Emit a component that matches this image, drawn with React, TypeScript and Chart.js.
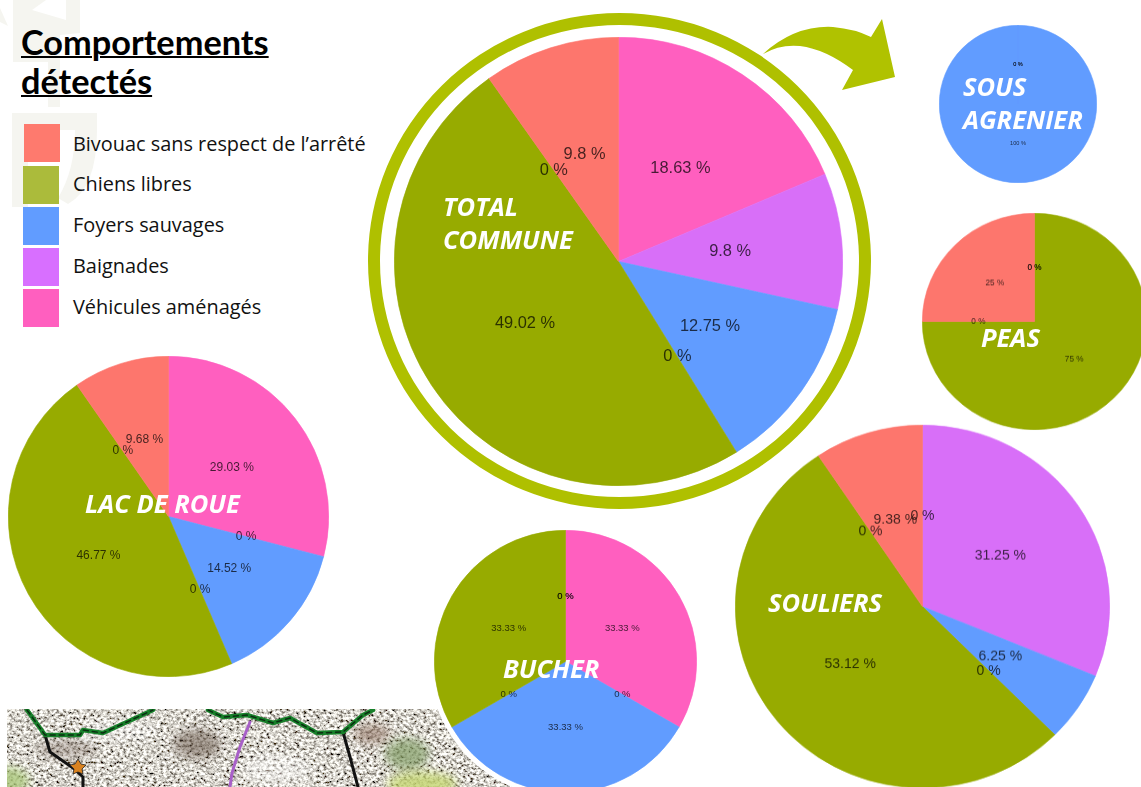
import React, { useEffect, useRef } from "react";
import { Chart, registerables } from "chart.js";

Chart.register(...registerables);

const categories = [
  "Véhicules aménagés",
  "Baignades",
  "Foyers sauvages",
  "Autre 1",
  "Chiens libres",
  "Autre 2",
  "Bivouac sans respect de l’arrêté",
];
const sliceColors = ["#FF5FBF", "#D86FF8", "#619CFF", "#00BA38", "#97AB00", "#00BFC4", "#FD766D"];

const totalCommune = [18.63, 9.8, 12.75, 0, 49.02, 0, 9.8];
const lacDeRoue = [29.03, 0, 14.52, 0, 46.77, 0, 9.68];
const bucher = [33.33, 0, 33.33, 0, 33.33, 0, 0];
const souliers = [0, 31.25, 6.25, 0, 53.12, 0, 9.38];
const peas = [0, 0, 0, 0, 75, 0, 25];
const sousAgrenier = [0, 0, 100, 0, 0, 0, 0];

const legendLabels = [
  "Bivouac sans respect de l’arrêté",
  "Chiens libres",
  "Foyers sauvages",
  "Baignades",
  "Véhicules aménagés",
];
const legendColors = ["#FE7A6E", "#ABBB3B", "#619CFF", "#D86FFF", "#FF5FBF"];

type PieCfg = {
  name: string;
  values: number[];
  cx: number;
  cy: number;
  r: number;
  sy?: number;
  font: number;
  blur: number;
  halo?: number;
};

const pies: PieCfg[] = [
  { name: "TOTAL COMMUNE", values: totalCommune, cx: 619, cy: 261.5, r: 224.8, font: 16.4, blur: 0.6 },
  { name: "LAC DE ROUE", values: lacDeRoue, cx: 168.5, cy: 517, r: 160.8, font: 12, blur: 0.5 },
  { name: "BUCHER", values: bucher, cx: 565.5, cy: 661.5, r: 131.8, font: 9.5, blur: 0.4, halo: 5 },
  { name: "SOULIERS", values: souliers, cx: 923, cy: 606.7, r: 187.8, sy: 181.7 / 187.5, font: 14, blur: 0.7 },
  { name: "PEAS", values: peas, cx: 1035, cy: 321.7, r: 112.8, sy: 108.5 / 112.5, font: 8.2, blur: 0.6 },
  { name: "SOUS AGRENIER", values: sousAgrenier, cx: 1018, cy: 104.7, r: 79.3, font: 5.6, blur: 0.4 },
];

const placeLabels = [
  { lines: ["TOTAL", "COMMUNE"], x: 443, y: 190, lh: 33 },
  { lines: ["LAC DE ROUE"], x: 85, y: 486, lh: 34 },
  { lines: ["BUCHER"], x: 503, y: 651, lh: 34 },
  { lines: ["SOULIERS"], x: 768, y: 585, lh: 34 },
  { lines: ["PEAS"], x: 981, y: 320, lh: 34 },
  { lines: ["SOUS", "AGRENIER"], x: 963, y: 70, lh: 33 },
];

function PieChart({ cfg }: { cfg: PieCfg }) {
  const ref = useRef<HTMLCanvasElement>(null);
  useEffect(() => {
    const chart = new Chart(ref.current as HTMLCanvasElement, {
      type: "pie",
      data: {
        labels: categories,
        datasets: [
          {
            data: cfg.values,
            backgroundColor: sliceColors,
            borderColor: sliceColors,
            borderWidth: cfg.values.map((v) => (v > 0 ? 0.6 : 0)),
          },
        ],
      },
      options: {
        responsive: false,
        animation: false,
        layout: { padding: 0 },
        plugins: { legend: { display: false }, tooltip: { enabled: false } },
      },
      plugins: [
        {
          id: "pctLabels",
          afterDatasetsDraw(c: any) {
            const ctx = c.ctx;
            ctx.save();
            ctx.font = `${cfg.font}px "Liberation Sans"`;
            ctx.textAlign = "center";
            ctx.textBaseline = "middle";
            ctx.fillStyle = "rgba(0,0,0,0.72)";
            const seen: Record<string, number> = {};
            c.getDatasetMeta(0).data.forEach((arc: any, i: number) => {
              const p = arc.getCenterPoint();
              const key = `${Math.round(p.x)}:${Math.round(p.y)}`;
              seen[key] = (seen[key] || 0) + 1;
              if (seen[key] <= 2) ctx.fillText(`${cfg.values[i]} %`, p.x, p.y);
            });
            ctx.restore();
          },
        },
      ],
    } as any);
    return () => chart.destroy();
  }, [cfg]);
  const size = cfg.r * 2;
  const h = cfg.halo || 0;
  return (
    <div
      style={{
        position: "absolute",
        left: cfg.cx - cfg.r,
        top: cfg.cy - cfg.r,
        width: size,
        height: size,
        transform: cfg.sy ? `scaleY(${cfg.sy})` : undefined,
      }}
    >
      {h ? (
        <div
          style={{
            position: "absolute",
            left: -h,
            top: -h,
            width: size + 2 * h,
            height: size + 2 * h,
            borderRadius: "50%",
            background: "#fff",
          }}
        />
      ) : null}
      <canvas
        ref={ref}
        width={size}
        height={size}
        style={{ position: "absolute", left: 0, top: 0, filter: `blur(${cfg.blur}px)` }}
      />
    </div>
  );
}

function Watermark() {
  return (
    <svg width="120" height="215" style={{ position: "absolute", left: 0, top: 0 }}>
      <g fill="#F5F5F0">
        <path d="M12 113 H97 V130 Q97 188 68 204 L58 198 Q75 170 75 130 H28 V207 H12 Z" />
        <path d="M13 0 V62 H48 V107 H60 V35 L80 33 V0 H66 V20 L32 10 L46 0 Z" />
        <path d="M0 8 L8 26 L0 22 Z" />
      </g>
    </svg>
  );
}

function MapBackdrop() {
  return (
    <svg width="530" height="78" style={{ position: "absolute", left: 7, top: 709 }}>
      <defs>
        <filter id="mapNoise" x="0" y="0" width="100%" height="100%">
          <feTurbulence type="fractalNoise" baseFrequency="0.3 0.36" numOctaves="4" seed="7" />
          <feColorMatrix
            type="matrix"
            values="2.3 0 0 0 -0.48  2.3 0 0 0 -0.5  2.2 0 0 0 -0.5  0 0 0 0 1"
          />
          <feGaussianBlur stdDeviation="0.35" />
        </filter>
        <filter id="soft"><feGaussianBlur stdDeviation="5" /></filter>
      </defs>
      <rect width="530" height="78" filter="url(#mapNoise)" />
      <g filter="url(#soft)">
        <ellipse cx="190" cy="35" rx="24" ry="15" fill="#5E4A3C" opacity="0.5" />
        <ellipse cx="110" cy="22" rx="40" ry="10" fill="#fff" opacity="0.4" />
        <ellipse cx="270" cy="60" rx="35" ry="15" fill="#fff" opacity="0.45" />
        <ellipse cx="60" cy="40" rx="30" ry="10" fill="#6C5B4E" opacity="0.35" />
        <ellipse cx="0" cy="72" rx="22" ry="14" fill="#A9C779" opacity="0.8" />
        <ellipse cx="400" cy="45" rx="22" ry="16" fill="#7F9A62" opacity="0.7" />
        <ellipse cx="415" cy="75" rx="35" ry="12" fill="#C3D56E" opacity="0.8" />
        <ellipse cx="365" cy="25" rx="18" ry="10" fill="#7D5A48" opacity="0.5" />
      </g>
      <g fill="none" strokeLinejoin="round" strokeLinecap="round">
        <path d="M243 13 L233 38 L225 64 L223 78" stroke="#A860C8" strokeWidth="3" />
        <path d="M38 26 L43 43 L66 59 L76 68 L76 78" stroke="#111" strokeWidth="3" />
        <path d="M336 23 L343 48 L351 78" stroke="#111" strokeWidth="3" />
        <path d="M20 1 L38 26 L73 26 L76 21 L96 24 L146 1" stroke="#17802A" strokeWidth="4.5" />
        <path d="M201 1 L216 8 L240 6 L266 14 L283 9 L310 24 L336 23 L356 6 L366 1" stroke="#17802A" strokeWidth="4.5" />
        <path d="M20 1 L38 26 L73 26 L76 21 L96 24 L146 1" stroke="#0B2E12" strokeWidth="1.5" strokeDasharray="5 4" />
        <path d="M201 1 L216 8 L240 6 L266 14 L283 9 L310 24 L336 23 L356 6 L366 1" stroke="#0B2E12" strokeWidth="1.5" strokeDasharray="5 4" />
      </g>
      <path d="M71 50 L74 55 L79 56 L75 60 L76 65 L71 63 L66 65 L67 60 L63 56 L68 55 Z" fill="#D9821F" stroke="#222" strokeWidth="0.8" />
    </svg>
  );
}

export default function App() {
  return (
    <div
      style={{
        position: "fixed",
        left: 0,
        top: 0,
        width: 1141,
        height: 787,
        overflow: "hidden",
        background: "#fff",
        fontFamily: '"Open Sans", sans-serif',
      }}
    >
      <Watermark />
      <MapBackdrop />

      <div
        style={{
          position: "absolute",
          left: 21,
          top: 22,
          fontFamily: "Lato, sans-serif",
          fontWeight: 700,
          fontSize: 34.3,
          lineHeight: "39px",
          color: "#000",
          textDecoration: "underline",
          textDecorationThickness: 2,
        }}
      >
        Comportements
        <br />
        détectés
      </div>

      {legendLabels.map((label, i) => (
        <React.Fragment key={label}>
          <div
            style={{
              position: "absolute",
              left: i === 0 ? 24 : 23,
              top: [124, 166, 207, 248, 289][i],
              width: 36,
              height: 38,
              background: legendColors[i],
            }}
          />
          <div
            style={{
              position: "absolute",
              left: 73,
              top: [144, 184, 225, 266, 307][i] - 14,
              height: 28,
              lineHeight: "28px",
              fontSize: 19.9,
              color: "#111",
              whiteSpace: "nowrap",
            }}
          >
            {label}
          </div>
        </React.Fragment>
      ))}

      <div
        style={{
          position: "absolute",
          left: 368,
          top: 13,
          width: 503,
          height: 496,
          boxSizing: "border-box",
          borderRadius: "50%",
          border: "12px solid #AFC000",
        }}
      />
      <svg width="1141" height="120" style={{ position: "absolute", left: 0, top: 0 }}>
        <path
          d="M763 54 Q795 25 833 27 Q855 29 871 37 L882 19 L895 77 L842 90 L853 70 Q825 49 800 46 Q780 44 763 54 Z"
          fill="#B0C200"
        />
      </svg>

      {pies.map((p) => (
        <PieChart key={p.name} cfg={p} />
      ))}

      {placeLabels.map((l) => (
        <div
          key={l.lines.join(" ")}
          style={{
            position: "absolute",
            left: l.x,
            top: l.y,
            color: "#fff",
            fontWeight: 700,
            fontStyle: "italic",
            fontSize: 25.5,
            lineHeight: `${l.lh}px`,
            whiteSpace: "nowrap",
          }}
        >
          {l.lines.map((t) => (
            <div key={t}>{t}</div>
          ))}
        </div>
      ))}
    </div>
  );
}
